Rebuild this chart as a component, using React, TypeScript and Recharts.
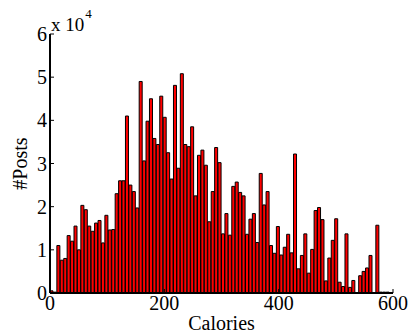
import React from 'react';
import { BarChart, Bar, XAxis, YAxis, Label } from 'recharts';

// histogram bins, 6 calories wide
const binCenters = [
  3, 9, 15, 21, 27, 33, 39, 45, 51, 57, 63, 69, 75, 81, 87, 93, 99, 105, 111, 117,
  123, 129, 135, 141, 147, 153, 159, 165, 171, 177, 183, 189, 195, 201, 207, 213, 219, 225, 231, 237,
  243, 249, 255, 261, 267, 273, 279, 285, 291, 297, 303, 309, 315, 321, 327, 333, 339, 345, 351, 357,
  363, 369, 375, 381, 387, 393, 399, 405, 411, 417, 423, 429, 435, 441, 447, 453, 459, 465, 471, 477,
  483, 489, 495, 501, 507, 513, 519, 525, 531, 537, 543, 549, 555, 561, 567, 573, 579, 585, 591, 597,
];

const postCounts = [
  500, 200, 11000, 7600, 8000, 13300, 12000, 15500, 10000, 20300,
  19300, 15500, 14300, 16200, 16800, 11600, 18000, 14600, 14700, 23000,
  26000, 26000, 41000, 25000, 23500, 19700, 49000, 30600, 39800, 45000,
  35800, 34400, 45600, 40700, 32500, 26400, 48100, 28900, 50800, 34400,
  33900, 38500, 22500, 31900, 33100, 29600, 16500, 23500, 33700, 30200,
  13700, 18400, 13400, 24700, 25700, 23300, 22500, 13600, 17100, 18400,
  11700, 27700, 20400, 23500, 11000, 9200, 15400, 8800, 10600, 13600,
  9300, 32200, 5600, 8700, 13700, 4600, 10100, 19100, 19800, 17000,
  2800, 8100, 12200, 17200, 2500, 1500, 13700, 1300, 2900, 0,
  4000, 5000, 5800, 8700, 0, 15700, 200, 200, 200, 100,
];

const xTicks = [0, 200, 400, 600];
const yTicks = [0, 10000, 20000, 30000, 40000, 50000, 60000];

const data = binCenters.map((c, i) => ({ calories: c, posts: postCounts[i] }));

const FONT = '"Liberation Serif", "Times New Roman", Times, serif';
const TICK_LEN = 4;

const BottomTick = (props: any) => {
  const { x, y, payload } = props;
  return (
    <g>
      <line x1={x} x2={x} y1={y} y2={y - TICK_LEN} stroke="#000" strokeWidth={1} />
      <text x={x} y={y + 17} textAnchor="middle" fontFamily={FONT} fontSize={20} fill="#000">
        {payload.value}
      </text>
    </g>
  );
};

const TopTick = (props: any) => {
  const { x, y } = props;
  return <line x1={x} x2={x} y1={y} y2={y + TICK_LEN} stroke="#000" strokeWidth={1} />;
};

const LeftTick = (props: any) => {
  const { x, y, payload } = props;
  return (
    <g>
      <line x1={x} x2={x + TICK_LEN} y1={y} y2={y} stroke="#000" strokeWidth={1} />
      <text x={x - 3} y={y + 7} textAnchor="end" fontFamily={FONT} fontSize={20} fill="#000">
        {payload.value / 10000}
      </text>
    </g>
  );
};

const RightTick = (props: any) => {
  const { x, y } = props;
  return <line x1={x} x2={x - TICK_LEN} y1={y} y2={y} stroke="#000" strokeWidth={1} />;
};

const renderXLabel = (props: any) => {
  const vb = props.viewBox;
  return (
    <text x={vb.x + vb.width / 2} y={vb.y + 37} textAnchor="middle" fontFamily={FONT} fontSize={20} fill="#000">
      Calories
    </text>
  );
};

const renderYLabels = (props: any) => {
  const vb = props.viewBox;
  const cy = vb.y + vb.height / 2;
  return (
    <g fontFamily={FONT} fill="#000">
      <text x={27} y={cy} transform={`rotate(-90, 27, ${cy})`} textAnchor="middle" fontSize={20}>
        #Posts
      </text>
      <text x={vb.x + vb.width + 1} y={vb.y - 3} fontSize={19}>
        x 10
        <tspan dx={1} dy={-13} fontSize={13}>4</tspan>
      </text>
    </g>
  );
};

export default function App() {
  return (
    <div style={{ width: 410, height: 332, background: '#fff' }}>
      <style>{`body{margin:0}`}</style>
      <BarChart
        width={410}
        height={332}
        data={data}
        margin={{ top: 34, right: 17, bottom: 0, left: 0 }}
        barCategoryGap={0}
        barGap={0}
      >
        <XAxis
          dataKey="calories"
          type="number"
          domain={[0, 600]}
          ticks={xTicks}
          height={39}
          axisLine={{ stroke: '#000', strokeWidth: 2 }}
          tickLine={false}
          tickSize={0}
          tickMargin={0}
          tick={<BottomTick />}
          interval={0}
        >
          <Label content={renderXLabel} />
        </XAxis>
        <XAxis
          xAxisId="top"
          orientation="top"
          dataKey="calories"
          type="number"
          domain={[0, 600]}
          ticks={xTicks}
          height={0}
          axisLine={{ stroke: '#000', strokeWidth: 2 }}
          tickLine={false}
          tickSize={0}
          tickMargin={0}
          tick={<TopTick />}
          interval={0}
        />
        <YAxis
          type="number"
          domain={[0, 60000]}
          ticks={yTicks}
          width={50}
          axisLine={{ stroke: '#000', strokeWidth: 2 }}
          tickLine={false}
          tickSize={0}
          tickMargin={0}
          tick={<LeftTick />}
          interval={0}
        >
          <Label content={renderYLabels} />
        </YAxis>
        <YAxis
          yAxisId="right"
          orientation="right"
          type="number"
          domain={[0, 60000]}
          ticks={yTicks}
          width={0}
          axisLine={{ stroke: '#000', strokeWidth: 2 }}
          tickLine={false}
          tickSize={0}
          tickMargin={0}
          tick={<RightTick />}
          interval={0}
        />
        <Bar dataKey="posts" fill="#ff0000" stroke="#000" strokeWidth={1} isAnimationActive={false} />
      </BarChart>
    </div>
  );
}
